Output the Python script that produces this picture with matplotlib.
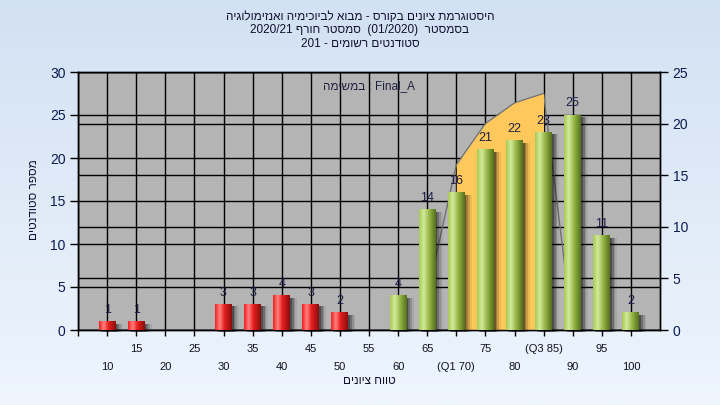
import re
import numpy as np
import matplotlib
matplotlib.use("Agg")
import matplotlib.pyplot as plt
from matplotlib.colors import LinearSegmentedColormap

plt.rcParams['font.family'] = ['Liberation Sans', 'DejaVu Sans']

# values
grades = [10, 15, 20, 25, 30, 35, 40, 45, 50, 55, 60, 65, 70, 75, 80, 85, 90, 95, 100]
tick_labels = ['10', '15', '20', '25', '30', '35', '40', '45', '50', '55', '60', '65',
               '(Q1 70)', '75', '80', '(Q3 85)', '90', '95', '100']
counts = [1, 1, 0, 0, 3, 3, 4, 3, 2, 0, 4, 14, 16, 21, 22, 23, 25, 11, 2]
pass_grade = 60
curve_grades = [65, 70, 75, 80, 85, 90]
curve_vals = [4, 19.2, 24.0, 26.4, 27.5, 0]
q1, q3 = 70, 85

title_lines = ['היסטוגרמת ציונים בקורס - מבוא לביוכימיה ואנזימולוגיה',
               'בסמסטר  (01/2020)  סמסטר חורף 2020/21',
               'סטודנטים רשומים - 201']
box_text = 'Final_A : במשימה'
x_title = 'טווח ציונים'
y_title = 'מספר סטודנטים'


def rtl(s):
    # crude right-to-left layout: reverse word order, flip hebrew words
    parts = re.split(r'(\s+)', s)
    out = []
    for p in reversed(parts):
        if any('\u0590' <= ch <= '\u05ff' for ch in p):
            out.append(p[::-1])
        else:
            out.append(p)
    return ''.join(out)


fig = plt.figure(figsize=(7.2, 4.05), dpi=100)

# background gradient
bg = fig.add_axes([0, 0, 1, 1], zorder=-1)
bg_cmap = LinearSegmentedColormap.from_list('bg', ['#eef5fd', '#d2e1f3'])
bg.imshow(np.linspace(0, 1, 256).reshape(-1, 1), cmap=bg_cmap, aspect='auto',
          extent=[0, 1, 0, 1], origin='lower')
bg.axis('off')

ax = fig.add_axes([78 / 720, 75 / 405, 582 / 720, 258 / 405])
ax2 = ax.twinx()
ax.set_zorder(2)
ax2.set_zorder(1)
ax.patch.set_visible(False)
ax2.patch.set_visible(True)
ax2.set_facecolor('#b4b4b4')

x = np.arange(len(grades))

# interquartile area and outline
cx = np.array([grades.index(g) for g in curve_grades])
cv = np.array(curve_vals)
ax.plot(cx, cv, color='#707070', lw=1, zorder=1)
mask = (np.array(curve_grades) >= q1) & (np.array(curve_grades) <= q3)
ax.fill_between(cx[mask], 0, cv[mask], color='#ffc85a', lw=0, zorder=1.5)

red_cmap = LinearSegmentedColormap.from_list(
    'red', [(0, '#f02020'), (0.28, '#ff8080'), (0.55, '#e82020'), (1, '#8a0c0c')])
green_cmap = LinearSegmentedColormap.from_list(
    'green', [(0, '#a6ca56'), (0.28, '#d2ea9a'), (0.6, '#96b646'), (1, '#55701c')])
grad = np.linspace(0, 1, 64).reshape(1, -1)

bars = ax.bar(x, counts, width=0.58, color='none', zorder=3)
for i, rect in enumerate(bars):
    h = rect.get_height()
    if h == 0:
        continue
    x0 = rect.get_x()
    w = rect.get_width()
    for off, a in [(0.06, 0.3), (0.12, 0.22), (0.18, 0.14), (0.24, 0.07)]:
        ax.bar(x0 + w / 2 + off, h, width=w, bottom=-0.25, color='black',
               alpha=a, lw=0, zorder=2.5, clip_on=False)
    cmap = green_cmap if grades[i] >= pass_grade else red_cmap
    ax.imshow(grad, cmap=cmap, extent=[x0, x0 + w, 0, h], aspect='auto', zorder=3)
    ax.annotate(str(counts[i]), (x[i], h), xytext=(0, 4), textcoords='offset points',
                ha='center', va='bottom', fontsize=9, color='#1c1c48', zorder=5)

ax.set_xlim(-1, 19)
ax.set_ylim(0, 30)
ax2.set_ylim(0, 25)

ax.set_yticks(range(0, 31, 5))
ax2.set_yticks(range(0, 26, 5))
ax.set_xticks(range(-1, 19))
ax.set_xticklabels([''] + [('\n' + t) if i % 2 == 0 else t for i, t in enumerate(tick_labels)],
                   linespacing=2.0)

ax.set_axisbelow(True)
ax.grid(True, color='black', lw=1)
ax2.yaxis.grid(True, color='black', lw=1)
ax2.set_axisbelow(True)

ax.tick_params(axis='y', direction='out', length=6, width=1, color='black',
               labelcolor='#0c1c50', labelsize=10, pad=3)
ax2.tick_params(axis='y', direction='out', length=6, width=1, color='black',
                labelcolor='#0c1c50', labelsize=10, pad=3)
ax.tick_params(axis='x', direction='out', length=4, width=1, color='black',
               labelcolor='#101020', labelsize=8, pad=6)
for a in (ax, ax2):
    for sp in a.spines.values():
        sp.set_color('black')
        sp.set_linewidth(1)

ax.text(0.5, 0.946, rtl(box_text), transform=ax.transAxes, ha='center', va='center',
        fontsize=8.5, color='#202040', zorder=6)

for line, yy in zip(title_lines, [17, 30, 44]):
    fig.text(0.5, 1 - yy / 405, rtl(line), ha='center', va='center', fontsize=8.5,
             color='#101030')

fig.text(369 / 720, 1 - 381 / 405, rtl(x_title), ha='center', va='center',
         fontsize=8.5, color='#101030')
fig.text(34 / 720, 1 - 200 / 405, rtl(y_title), ha='center', va='center',
         fontsize=8.5, color='#101030', rotation=90)

fig.savefig('out.png', dpi=100)
